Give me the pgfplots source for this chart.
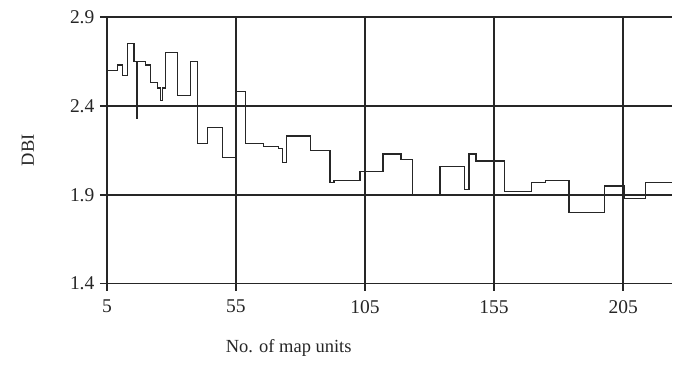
\documentclass[border=0pt]{standalone}
\usepackage{pgfplots}
\pgfplotsset{compat=1.18}
\usepackage{fontspec}
\setmainfont{Liberation Serif}
\begin{document}
\begin{tikzpicture}
\begin{axis}[
  scale only axis,
  width=566pt, height=267pt,
  xmin=5, xmax=224, ymin=1.4, ymax=2.9,
  axis x line=bottom, axis y line=left,
  axis line style={-, line width=1.6pt, black!85},
  xtick={5,55,105,155,205},
  ytick={1.4,1.9,2.4,2.9},
  yticklabel style={/pgf/number format/fixed,/pgf/number format/precision=1,/pgf/number format/fixed zerofill},
  /pgf/number format/assume math mode=true,
  tick style={line width=1.6pt, black!85},
  tick align=outside,
  major tick length=7pt,
  xmajorgrids, ymajorgrids,
  grid style={line width=1.6pt, black!85},
  tick label style={font=\fontsize{19.5}{21}\selectfont, text=black!85},
  xticklabel style={yshift=-6pt},
  yticklabel style={xshift=-2pt},
  label style={font=\fontsize{18.5}{21}\selectfont, text=black!85},
  xlabel={No. of map units},
  ylabel={DBI},
  xlabel style={at={(axis description cs:0.3216,-0.2397)}, anchor=center},
  ylabel style={at={(axis description cs:-0.1396,0.5)}, anchor=center},
  clip=false,
]
\addplot[const plot, black!85, line width=1.4pt] coordinates {
(5,2.60) (9.1,2.63) (11.1,2.57) (13,2.75) (15.5,2.65) (16.4,2.33) (16.9,2.65)
(20,2.63) (22,2.53) (24.6,2.50) (25.8,2.43) (26.5,2.50) (27.8,2.70) (32.3,2.46)
(37.4,2.65) (40,2.19) (43.9,2.28) (49.7,2.11) (54.8,2.48) (58.7,2.19) (65.7,2.17)
(71.5,2.16) (73,2.08) (74.5,2.23) (83.8,2.15) (91.5,1.97) (93,1.98) (103,2.03)
(112,2.13) (119,2.10) (123.5,1.90) (134,2.06) (143.6,1.93) (145.3,2.13) (148,2.09)
(159,1.92) (169.4,1.97) (175,1.98) (184,1.80) (197.7,1.95) (205.4,1.88) (213.7,1.97) (224,1.97)
};
\end{axis}
\path (current axis.south west) ++(-107pt,-83pt) rectangle ++(673pt,367pt);
\end{tikzpicture}
\end{document}
